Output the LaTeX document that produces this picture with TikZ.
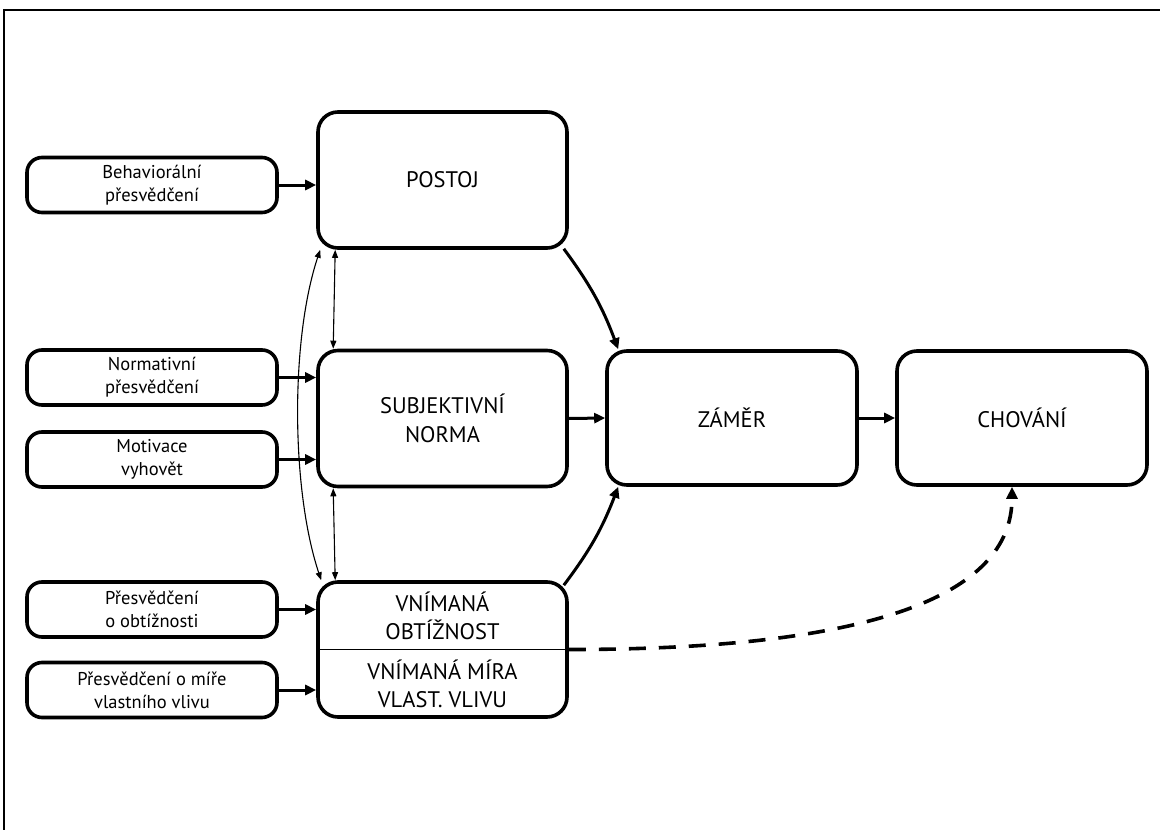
\documentclass[tikz,border=0pt]{standalone}
\usepackage{fontspec}
\setmainfont{PT Sans}
\usetikzlibrary{arrows.meta}
\begin{document}
\begin{tikzpicture}[x=1pt,y=-1pt,
  box/.style={draw, line width=3.6pt, rounded corners=15pt, minimum width=250pt, minimum height=55pt, inner sep=0pt, align=center, font=\fontsize{18.5}{23}\selectfont},
  bigbox/.style={draw, line width=3.6pt, rounded corners=20pt, minimum width=249pt, minimum height=136pt, inner sep=0pt, align=center, font=\fontsize{22.5}{29}\selectfont},
  bigtext/.style={align=center, inner sep=0pt, font=\fontsize{22.5}{28}\selectfont},
  thickarrow/.style={line width=3pt, -{Triangle[length=11pt,width=10pt]}},
  thinarrow/.style={line width=1.1pt, {Triangle[length=8pt,width=6pt]}-{Triangle[length=8pt,width=6pt]}},
  dasharrow/.style={line width=3.6pt, dash pattern=on 17pt off 13pt, -{Triangle[length=12pt,width=11pt]}},
  frameline/.style={line width=1.5pt}
]
\useasboundingbox (0,0) rectangle (1160,830);
\fill[white] (0,0) rectangle (1160,830);
\coordinate (fb) at (4,830);
\coordinate (fc) at (4,10);
\coordinate (fr) at (1160,10);
\draw[frameline] (fb) -- (fc) -- (fr);

% small boxes
\node[box] (beh) at (152,185) {Behaviorální\\přesvědčení};
\node[box] (norm) at (152,377.5) {Normativní\\přesvědčení};
\node[box] (mot) at (152,459.5) {Motivace\\vyhovět};
\node[box] (obt) at (152,609.5) {Přesvědčení\\o obtížnosti};
\node[box] (mira) at (152,690) {Přesvědčení o míře\\vlastního vlivu};

% big boxes
\node[bigbox] (postoj) at (442.5,180) {POSTOJ};
\node[bigbox] (subj) at (442.5,418.5) {SUBJEKTIVNÍ\\NORMA};
\node[bigbox, minimum height=135pt] (vn) at (442.5,649.5) {};
\node[bigtext] (vnA) at (442.5,616) {VNÍMANÁ\\OBTÍŽNOST};
\node[bigtext] (vnB) at (442.5,684) {VNÍMANÁ MÍRA\\VLAST. VLIVU};
\draw[line width=1.4pt] (vn.west) -- (vn.east);
\node[bigbox, minimum width=250pt, minimum height=134pt] (zamer) at (732,418) {ZÁMĚR};
\node[bigbox, minimum width=250pt, minimum height=134pt] (chov) at (1022,418) {CHOVÁNÍ};

% inputs
\draw[thickarrow] (beh.east) -- (beh.east -| postoj.west);
\draw[thickarrow] (norm.east) -- (norm.east -| subj.west);
\draw[thickarrow] (mot.east) -- (mot.east -| subj.west);
\draw[thickarrow] (obt.east) -- (obt.east -| vn.west);
\draw[thickarrow] (mira.east) -- (mira.east -| vn.west);

% main flow
\draw[thickarrow] (subj.east) -- (zamer.west);
\draw[thickarrow] (zamer.east) -- (chov.west);
\draw[thickarrow] ([xshift=-5pt,yshift=1pt]postoj.south east) to[bend left=8] ([xshift=13pt]zamer.north west);
\draw[thickarrow] ([xshift=-5pt,yshift=-5pt]vn.north east) to[bend right=8] ([xshift=13pt]zamer.south west);

% correlations
\draw[thinarrow] ([xshift=19pt]postoj.south west) -- ([xshift=17pt]subj.north west);
\draw[thinarrow] ([xshift=17pt]subj.south west) -- ([xshift=19pt]vn.north west);
\draw[thinarrow] ([xshift=4pt]postoj.south west) .. controls +(-30,90) and +(-30,-90) .. ([xshift=5pt]vn.north west);

% dashed
\draw[dasharrow] (vn.east) .. controls +(300,0) and +(0,110) .. ([xshift=-10pt]chov.south);
\end{tikzpicture}
\end{document}
